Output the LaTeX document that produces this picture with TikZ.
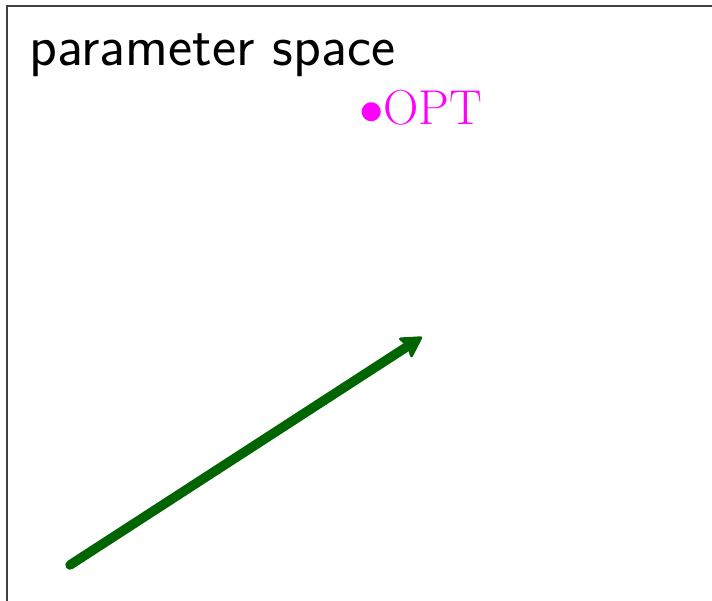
\RequirePackage{fix-cm}
\documentclass[tikz,border=0pt]{standalone}
\usetikzlibrary{arrows.meta}
\definecolor{arrowgreen}{RGB}{0,100,0}
\definecolor{optmagenta}{RGB}{255,0,255}
\begin{document}
\begin{tikzpicture}[x=1pt,y=-1pt,
  frame/.style={draw=black!75,line width=1.2pt},
  title/.style={anchor=base west,inner sep=0pt,font=\fontsize{57.5}{62}\selectfont\sffamily},
  opt/.style={anchor=base west,inner sep=0pt,text=optmagenta,font=\fontsize{49}{54}\selectfont},
  movearrow/.style={draw=arrowgreen,line width=9.5pt,line cap=round,-{Stealth[round,length=23pt,width=26pt,inset=4pt,line width=3pt]}}]
\useasboundingbox (0,0) rectangle (712,601);
\clip (0,0) rectangle (712,601);
\draw[frame] (7,6) rectangle (740,640);
\node[title] (t) at (29,66) {parameter space};
\node[opt] (o) at (359,125) {$\bullet$OPT};
\coordinate (s) at (70,565);
\coordinate (e) at (422,337);
\draw[movearrow] (s) -- (e);
\end{tikzpicture}
\end{document}
